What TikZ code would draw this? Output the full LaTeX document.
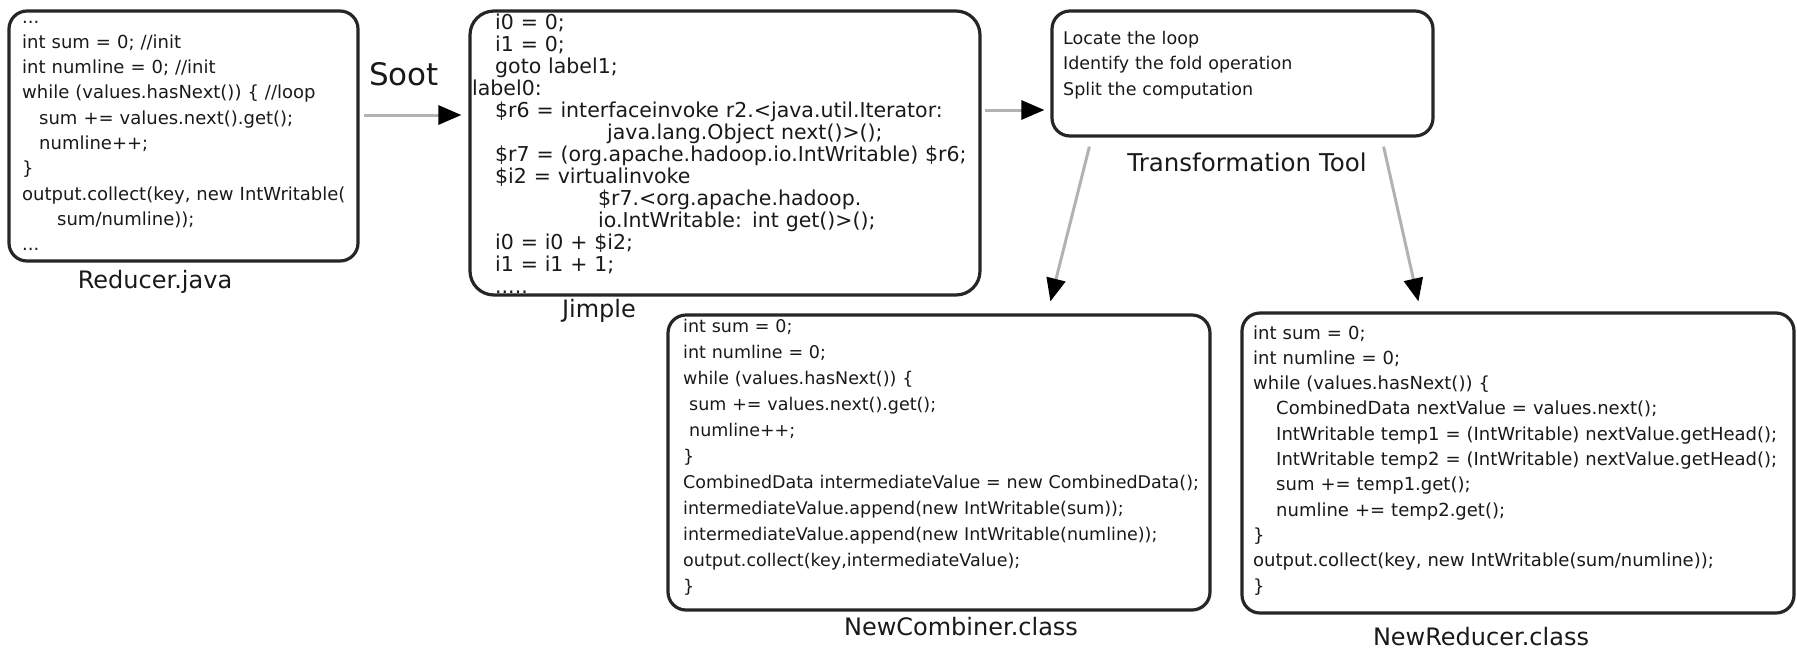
\documentclass[tikz,border=0pt]{standalone}
\usepackage{fontspec}
\setmainfont{DejaVu Sans}
\usetikzlibrary{arrows.meta}
\tikzset{
  box/.style={draw=black!85, line width=3.2pt, rounded corners=18pt, inner sep=0pt},
  code/.style={anchor=base west, inner sep=0pt, align=left, text width=600pt, text=black!90},
  lbl/.style={anchor=base, inner sep=0pt, text=black!90, font=\fontsize{24}{28}\selectfont},
  flow/.style={draw=black!30, line width=3pt, -{Triangle[length=23pt,width=19pt,color=black]}}
}
\begin{document}
\begin{tikzpicture}[x=1pt,y=-1pt]
\useasboundingbox (0,0) rectangle (1797,649);

% boxes
\node[box, minimum width=349pt, minimum height=250pt] (reducer) at (183.5,136) {};
\node[box, rounded corners=24pt, minimum width=510pt, minimum height=284pt] (jimple) at (725,153) {};
\node[box, minimum width=381pt, minimum height=125pt] (tool) at (1242.5,73.5) {};
\node[box, minimum width=542pt, minimum height=295pt] (combiner) at (939,462.5) {};
\node[box, minimum width=552pt, minimum height=300pt] (newreducer) at (1518,463) {};

% code texts
\node[code, font=\fontsize{18}{25.3}\selectfont] (reducercode) at (22,23) {%
...\\
int sum = 0; //init\\
int numline = 0; //init\\
while (values.hasNext()) \{ //loop\\
\hspace*{17pt}sum += values.next().get();\\
\hspace*{17pt}numline++;\\
\}\\
output.collect(key, new IntWritable(\\
\hspace*{35pt}sum/numline));\\
...};

\node[code, font=\fontsize{20.5}{22}\selectfont] (jimplecode) at (472,29) {%
\hspace*{23pt}i0 = 0;\\
\hspace*{23pt}i1 = 0;\\
\hspace*{23pt}goto label1;\\
label0:\\
\hspace*{23pt}\$r6 = interfaceinvoke r2.<java.util.Iterator:\\
\hspace*{135pt}java.lang.Object next()>();\\
\hspace*{23pt}\$r7 = (org.apache.hadoop.io.IntWritable) \$r6;\\
\hspace*{23pt}\$i2 = virtualinvoke\\
\hspace*{126pt}\$r7.<org.apache.hadoop.\\
\hspace*{126pt}io.IntWritable: int get()>();\\
\hspace*{23pt}i0 = i0 + \$i2;\\
\hspace*{23pt}i1 = i1 + 1;\\
\hspace*{23pt}.....};

\node[code, font=\fontsize{17.5}{25.5}\selectfont] (toolcode) at (1063,44) {%
Locate the loop\\
Identify the fold operation\\
Split the computation};

\node[code, font=\fontsize{17.5}{26}\selectfont] (combinercode) at (683,332) {%
int sum = 0;\\
int numline = 0;\\
while (values.hasNext()) \{\\
\hspace*{6pt}sum += values.next().get();\\
\hspace*{6pt}numline++;\\
\}\\
CombinedData intermediateValue = new CombinedData();\\
intermediateValue.append(new IntWritable(sum));\\
intermediateValue.append(new IntWritable(numline));\\
output.collect(key,intermediateValue);\\
\}};

\node[code, font=\fontsize{18}{25.3}\selectfont] (newreducercode) at (1253,339) {%
int sum = 0;\\
int numline = 0;\\
while (values.hasNext()) \{\\
\hspace*{23pt}CombinedData nextValue = values.next();\\
\hspace*{23pt}IntWritable temp1 = (IntWritable) nextValue.getHead();\\
\hspace*{23pt}IntWritable temp2 = (IntWritable) nextValue.getHead();\\
\hspace*{23pt}sum += temp1.get();\\
\hspace*{23pt}numline += temp2.get();\\
\}\\
output.collect(key, new IntWritable(sum/numline));\\
\}};

% captions
\node[lbl] (reducercap) at (155,288) {Reducer.java};
\node[lbl, font=\fontsize{31}{34}\selectfont] (soot) at (404,85) {Soot};
\node[lbl] (jimplecap) at (599,317) {Jimple};
\node[lbl, font=\fontsize{24.5}{28}\selectfont] (toolcap) at (1247,171) {Transformation Tool};
\node[lbl] (combinercap) at (961,635) {NewCombiner.class};
\node[lbl] (newreducercap) at (1481,645) {NewReducer.class};

% connectors
\draw[flow] ([xshift=4pt,yshift=21pt]reducer.east) -- ([xshift=-7pt,yshift=38pt]jimple.west);
\draw[flow] ([xshift=3pt,yshift=43pt]jimple.east) -- ([xshift=-6pt,yshift=-36.5pt]tool.west);
\draw[flow] ([xshift=39pt,yshift=-9pt]tool.south west) -- ([xshift=384pt,yshift=12pt]combiner.north west);
\draw[flow] ([xshift=-51pt,yshift=-9pt]tool.south east) -- ([xshift=178pt,yshift=10pt]newreducer.north west);
\end{tikzpicture}
\end{document}
